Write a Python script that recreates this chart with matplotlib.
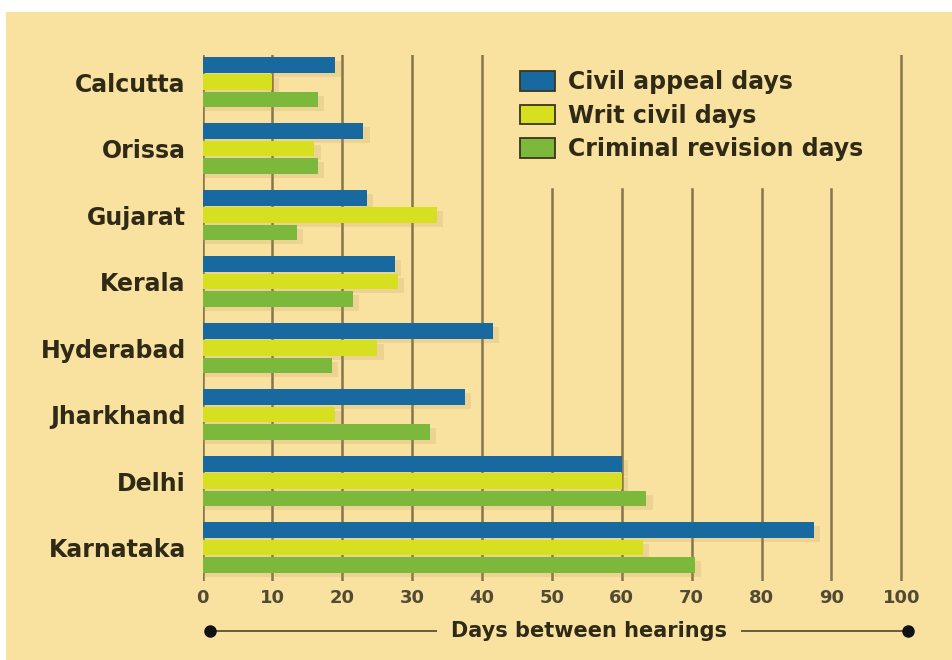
import matplotlib

matplotlib.use("Agg")
import matplotlib.pyplot as plt
import matplotlib.transforms as mtransforms
import numpy as np
from matplotlib.patches import Patch, Rectangle

courts = ["Calcutta", "Orissa", "Gujarat", "Kerala", "Hyderabad", "Jharkhand", "Delhi", "Karnataka"]
civil_appeal = [19, 23, 23.5, 27.5, 41.5, 37.5, 60, 87.5]
writ_civil = [10, 16, 33.5, 28, 25, 19, 60, 63]
criminal_revision = [16.5, 16.5, 13.5, 21.5, 18.5, 32.5, 63.5, 70.5]
series_labels = ["Civil appeal days", "Writ civil days", "Criminal revision days"]
x_ticks = [0, 10, 20, 30, 40, 50, 60, 70, 80, 90, 100]

BG = "#f9e1a0"
TEXT = "#2e2a16"
GRID = "#86744a"
COLORS = ["#17699f", "#d6e020", "#7bb83b"]
FONT = ["DejaVu Sans"]

fig = plt.figure(figsize=(9.53, 6.60), dpi=100)
fig.patch.set_facecolor("white")
fig.patches.append(Rectangle((0.006, 0.0), 0.994, 0.982, transform=fig.transFigure,
                             facecolor=BG, edgecolor="none", zorder=-10))

ax = fig.add_axes([0.2125, 0.12, 0.745, 0.797])
ax.set_facecolor("none")
for spine in ax.spines.values():
    spine.set_visible(False)

y = np.arange(len(courts))
bar_h = 0.235
offsets = [-0.26, 0.0, 0.26]
all_series = [civil_appeal, writ_civil, criminal_revision]

for values, off, color in zip(all_series, offsets, COLORS):
    # soft shadow behind each bar
    ax.barh(y + off + 0.06, np.array(values) + 0.9, height=bar_h, color="#b08f50",
            alpha=0.16, zorder=2, linewidth=0)
    ax.barh(y + off, values, height=bar_h, color=color, zorder=3, linewidth=0)

# grid lines under the legend start lower down
for t in x_ticks:
    top = 0.745 if 50 <= t <= 90 else 1.0
    ax.axvline(t, ymax=top, color=GRID, linewidth=1.8, zorder=1)

ax.set_xlim(0, 101.6)
ax.set_ylim(7.5, -0.41)
ax.set_yticks(y)
ax.set_yticklabels(courts, family=FONT, fontsize=17, fontweight="bold", color=TEXT)
ax.set_xticks(x_ticks)
ax.set_xticklabels([str(t) for t in x_ticks], family=FONT, fontsize=13,
                   fontweight="bold", color="#524a33")
ax.tick_params(axis="y", length=0, pad=12)
ax.tick_params(axis="x", length=0, pad=6)

leg = ax.legend(
    handles=[Patch(facecolor=c, edgecolor="#3a3520", linewidth=1.3, label=l)
             for c, l in zip(COLORS, series_labels)],
    loc="upper left", bbox_to_anchor=(0.430, 0.993), frameon=True,
    prop={"family": FONT, "size": 17, "weight": "bold"},
    handlelength=1.48, handleheight=0.9, handletextpad=0.55, labelspacing=0.4,
    borderpad=0.5, borderaxespad=0,
)
leg.get_frame().set_facecolor(BG)
leg.get_frame().set_edgecolor("none")
leg.get_frame().set_alpha(1)
leg.set_zorder(5)
for txt in leg.get_texts():
    txt.set_color(TEXT)

# axis title with a dotted line running under it
trans = mtransforms.blended_transform_factory(ax.transData, ax.transAxes)
ax.plot([1, 101], [-0.096, -0.096], transform=trans, color="#5a5233",
        linewidth=1.3, clip_on=False, zorder=4)
ax.plot([1, 101], [-0.096, -0.096], "o", transform=trans, color="#111111",
        markersize=8, clip_on=False, zorder=6)
ax.text(55.3, -0.096, "Days between hearings", transform=trans, ha="center", va="center",
        family=FONT, fontsize=15, fontweight="bold", color=TEXT, zorder=5,
        bbox={"facecolor": BG, "edgecolor": "none", "pad": 10})

fig.savefig("out.png", dpi=100)
